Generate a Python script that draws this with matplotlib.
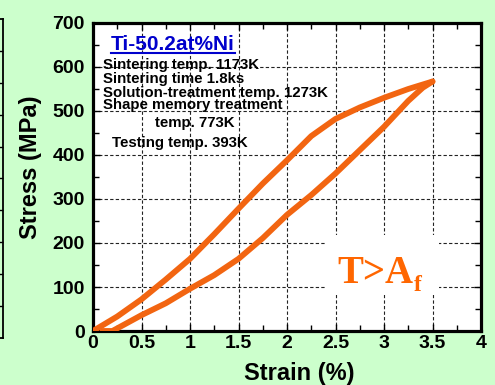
import matplotlib
matplotlib.use('Agg')
import matplotlib.pyplot as plt
from matplotlib.patches import Rectangle
from matplotlib.lines import Line2D
from matplotlib.ticker import MultipleLocator, FixedLocator

# ---- data ----
load_strain = [0, 0.25, 0.5, 0.75, 1.0, 1.25, 1.5, 1.75, 2.0, 2.25, 2.5, 2.75, 3.0, 3.25, 3.5]
load_stress = [0, 33, 72, 117, 164, 220, 278, 335, 388, 443, 482, 508, 530, 550, 567]
unload_strain = [3.5, 3.4, 3.25, 3.0, 2.75, 2.5, 2.25, 2.0, 1.75, 1.5, 1.25, 1.0, 0.75, 0.5, 0.3, 0.2, 0.1]
unload_stress = [567, 553, 523, 464, 411, 358, 309, 264, 211, 164, 127, 96, 63, 36, 12, 0, 0]

xticks = [0, 0.5, 1, 1.5, 2, 2.5, 3, 3.5, 4]
xticklabels = ['0', '0.5', '1', '1.5', '2', '2.5', '3', '3.5', '4']
yticks = [0, 100, 200, 300, 400, 500, 600, 700]
yticklabels = ['0', '100', '200', '300', '400', '500', '600', '700']

title_text = 'Ti-50.2at%Ni'
notes = ['Sintering temp. 1173K', 'Sintering time 1.8ks',
         'Solution-treatment temp. 1273K', 'Shape memory treatment',
         'temp. 773K', 'Testing temp. 393K']
cond_main = 'T>A'
cond_sub = 'f'
xlabel = 'Strain (%)'
ylabel = 'Stress (MPa)'

# ---- style ----
W, H = 495, 385
BG = '#CCFFCC'
CURVE = '#F26511'
SANS = ['Liberation Sans', 'DejaVu Sans']
SERIF = ['Liberation Serif', 'DejaVu Serif']

fig = plt.figure(figsize=(W / 100, H / 100), dpi=100, facecolor=BG)

def fx(x):
    return x / W

def fy(y):
    return 1 - y / H

# neighbouring panel edge at far left
axn = fig.add_axes([fx(-200), fy(338), fx(202.5), (338 - 19) / H])
axn.set_xlim(0, 1)
axn.set_ylim(0, 10)
axn.set_facecolor('none')
axn.spines['left'].set_visible(False)
for s in ['right', 'top', 'bottom']:
    axn.spines[s].set_linewidth(1.3)
axn.yaxis.tick_right()
axn.set_yticks(range(1, 10))
axn.tick_params(axis='y', direction='in', length=3, width=1, labelright=False)
axn.set_xticks([])

# main axes
ax = fig.add_axes([fx(93), fy(331), fx(481 - 93), (331 - 23) / H])
ax.set_facecolor('white')
ax.set_axisbelow(True)

ax.plot(load_strain, load_stress, color=CURVE, lw=4.2, solid_capstyle='round',
        solid_joinstyle='round', zorder=3)
ax.plot(unload_strain, unload_stress, color=CURVE, lw=4.2, solid_capstyle='round',
        solid_joinstyle='round', zorder=3)

ax.set_xlim(0, 4)
ax.set_ylim(0, 700)
ax.xaxis.set_major_locator(FixedLocator(xticks))
ax.set_xticklabels(xticklabels)
ax.yaxis.set_major_locator(FixedLocator(yticks))
ax.set_yticklabels(yticklabels)
ax.xaxis.set_minor_locator(MultipleLocator(0.25))
ax.yaxis.set_minor_locator(MultipleLocator(50))

ax.grid(True, which='major', color='#222222', lw=0.8, ls=(0, (3, 2)))
ax.tick_params(which='both', direction='in', top=True, right=True, width=1)
ax.tick_params(which='major', length=5)
ax.tick_params(which='minor', length=4)
ax.tick_params(axis='x', pad=3)
ax.tick_params(axis='y', pad=6)
for lab in ax.get_xticklabels() + ax.get_yticklabels():
    lab.set_fontfamily(SANS)
    lab.set_fontweight('bold')
    lab.set_fontsize(14)
for s in ax.spines.values():
    s.set_linewidth(2.3)

ax.set_xlabel(xlabel, fontfamily=SANS, fontweight='bold', fontsize=17)
ax.set_ylabel(ylabel, fontfamily=SANS, fontweight='bold', fontsize=17)
ax.xaxis.set_label_coords((299 - 93) / (481 - 93), -(380 - 331) / (331 - 23), transform=ax.transAxes)
ax.yaxis.set_label_coords(-(93 - 31) / (481 - 93), (331 - 167) / (331 - 23), transform=ax.transAxes)
ax.xaxis.label.set_va('baseline')
ax.yaxis.label.set_va('center')

# text block
t_title = fig.text(fx(111), fy(50), title_text, fontfamily=SANS, fontweight='bold',
                   fontsize=15, color='#0000CC', va='baseline', ha='left', zorder=5)
note_pos = [(103, 69), (103, 83), (103, 96.7), (103, 109), (155, 126.7), (112, 146.7)]
for txt, (x, y) in zip(notes, note_pos):
    fig.text(fx(x), fy(y), txt, fontfamily=SANS, fontweight='bold', fontsize=10.8,
             color='black', va='baseline', ha='left', zorder=5)

t_main = fig.text(fx(337), fy(283), cond_main, fontfamily=SERIF, fontweight='bold',
                  fontsize=28, color='#FF6600', va='baseline', ha='left', zorder=6)

fig.canvas.draw()
r = fig.canvas.get_renderer()
bb = t_title.get_window_extent(r)
fig.add_artist(Line2D([bb.x0 / W, bb.x1 / W], [fy(52.5), fy(52.5)], color='#0000CC', lw=1.5))

bm = t_main.get_window_extent(r)
t_sub = fig.text((bm.x1 + 1) / W, fy(291), cond_sub, fontfamily=SERIF, fontweight='bold',
                 fontsize=17, color='#FF6600', va='baseline', ha='left', zorder=6)
fig.canvas.draw()
bs = t_sub.get_window_extent(r)
x0 = bm.x0 - 12
x1 = bs.x1 + 17
y0 = H - 295
y1 = H - 235
inv = ax.transAxes.inverted()
(ax0, ay0) = inv.transform((x0, y0))
(ax1, ay1) = inv.transform((x1, y1))
ax.add_patch(Rectangle((ax0, ay0), ax1 - ax0, ay1 - ay0, transform=ax.transAxes,
                       facecolor='white', edgecolor='none', zorder=1))

fig.savefig('out.png', dpi=100, facecolor=BG)
